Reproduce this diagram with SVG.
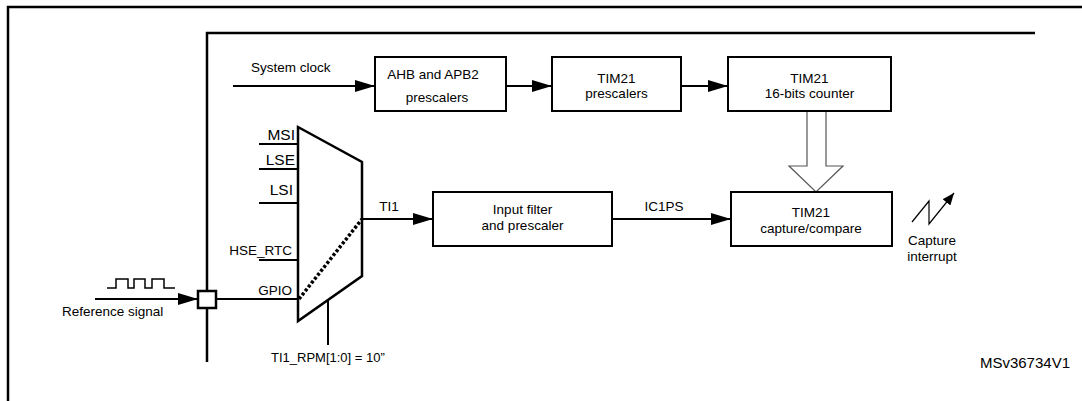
<svg xmlns="http://www.w3.org/2000/svg" width="1082" height="401" viewBox="0 0 1082 401">
<defs>
<style>
text{font-family:"Liberation Sans",Arial,sans-serif;font-size:13.5px;fill:#000}
.c{text-anchor:middle}
.r{text-anchor:end}
.box{fill:#fff;stroke:#000;stroke-width:2}
.ln{fill:none;stroke:#000;stroke-width:2}
.frame{fill:none;stroke:#000;stroke-width:2.5}
</style>
<marker id="ah" viewBox="0 0 20 12" refX="20" refY="6" markerWidth="20" markerHeight="12" markerUnits="userSpaceOnUse" orient="auto">
<path d="M0,0 L20,6 L0,12 Z" fill="#000"/>
</marker>
<marker id="ahs" viewBox="0 0 12 10" refX="12" refY="5" markerWidth="12" markerHeight="10" markerUnits="userSpaceOnUse" orient="auto">
<path d="M0,0 L12,5 L0,10 Z" fill="#000"/>
</marker>
</defs>
<rect width="1082" height="401" fill="#fff"/>
<g id="frame">
<path class="frame" d="M8,401 V7 H1082"/>
<path class="frame" d="M207,362 V33 H1035"/>
</g>
<g id="connectors">
<line class="ln" x1="233" y1="86" x2="375" y2="86" marker-end="url(#ah)"/>
<line class="ln" x1="506" y1="86" x2="552" y2="86" marker-end="url(#ah)"/>
<line class="ln" x1="681" y1="86" x2="728" y2="86" marker-end="url(#ah)"/>
<path d="M807,111 V166 H789 L816,192 L843,166 H826 V111 Z" fill="#fff" stroke="#555" stroke-width="1.2"/>
<line class="ln" x1="362" y1="219" x2="433" y2="219" marker-end="url(#ah)"/>
<line class="ln" x1="612" y1="219" x2="731" y2="219" marker-end="url(#ah)"/>
<line class="ln" x1="95" y1="299" x2="198" y2="299" marker-end="url(#ah)"/>
<line class="ln" x1="216" y1="299" x2="298" y2="299"/>
<line class="ln" x1="328" y1="300" x2="328" y2="345"/>
<path d="M107,288 H116 V279 H128 V288 H134 V279 H145 V288 H152 V279 H164 V288 H175" fill="none" stroke="#000" stroke-width="1.5"/>
<path d="M912,222 L929,201 V224 L954,193" fill="none" stroke="#000" stroke-width="1.2" marker-end="url(#ahs)"/>
</g>
<g id="ahb">
<rect class="box" x="375" y="57" width="131" height="54"/>
<text x="433" y="79" class="c">AHB and APB2</text>
<text x="437" y="102" class="c">prescalers</text>
</g>
<g id="tim21-prescalers">
<rect class="box" x="552" y="57" width="129" height="54"/>
<text x="616.5" y="83" class="c">TIM21</text>
<text x="616.5" y="98" class="c">prescalers</text>
</g>
<g id="tim21-counter">
<rect class="box" x="728" y="57" width="163" height="54"/>
<text x="809.5" y="83" class="c">TIM21</text>
<text x="809.5" y="98" class="c">16-bits counter</text>
</g>
<g id="input-filter">
<rect class="box" x="433" y="192" width="179" height="54"/>
<text x="522.5" y="214" class="c">Input filter</text>
<text x="522.5" y="230" class="c">and prescaler</text>
</g>
<g id="capture-compare">
<rect class="box" x="731" y="192" width="161" height="54"/>
<text x="811" y="217" class="c">TIM21</text>
<text x="811" y="233" class="c">capture/compare</text>
</g>
<g id="mux">
<path d="M298,127 L362,162 V276 L298,321 Z" fill="#fff" stroke="#000" stroke-width="2.5"/>
<line x1="299" y1="299" x2="362" y2="219" stroke="#000" stroke-width="3.5" stroke-dasharray="3,2"/>
<path class="ln" d="M259,144 H298 M259,169 H298 M259,203 H298 M259,260 H298"/>
<text x="295" y="140" class="r" style="font-size:15.5px">MSI</text>
<text x="295" y="165" class="r" style="font-size:15.5px">LSE</text>
<text x="293" y="195" class="r" style="font-size:15.5px">LSI</text>
<text x="292" y="255" class="r">HSE_RTC</text>
<text x="292" y="295" class="r">GPIO</text>
</g>
<g id="pin">
<rect x="198" y="291" width="18" height="17" fill="#fff" stroke="#000" stroke-width="2.5"/>
</g>
<g id="labels">
<text x="251" y="72">System clock</text>
<text x="389" y="211" class="c">TI1</text>
<text x="664" y="211" class="c">IC1PS</text>
<text x="62" y="316">Reference signal</text>
<text x="271" y="362" style="font-size:13px">TI1_RPM[1:0] = 10”</text>
<text x="932" y="245" class="c">Capture</text>
<text x="932" y="261" class="c">interrupt</text>
<text x="1070" y="368" class="r" style="font-size:15px">MSv36734V1</text>
</g>
</svg>
